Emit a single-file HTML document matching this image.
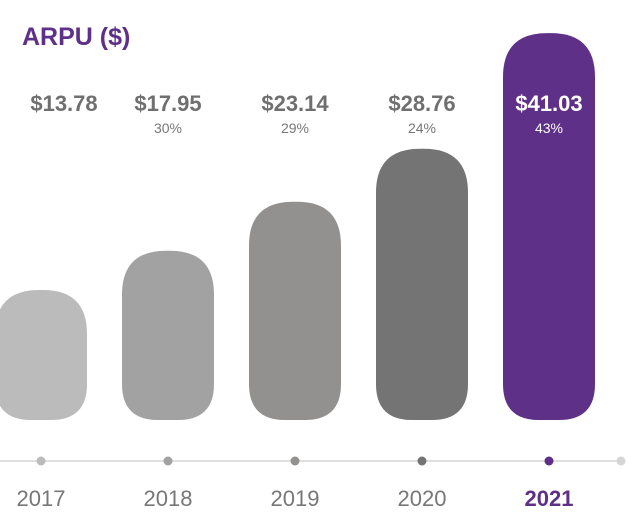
<!DOCTYPE html>
<html><head><meta charset="utf-8"><style>
body{margin:0;background:#fff;}
svg{display:block;font-family:"Liberation Sans",sans-serif;}
</style></head><body>
<svg id="chart" width="642" height="518" viewBox="0 0 642 518">
<text x="22" y="45" font-size="25" font-weight="bold" fill="#5f3087">ARPU ($)</text>
<line x1="0" y1="461" x2="621" y2="461" stroke="#e0e0e0" stroke-width="2"/>
<circle cx="621" cy="461" r="4.5" fill="#d6d6d6"/>
<g id="marks"></g>
</svg>
<script>
const years=["2017","2018","2019","2020","2021"];
const values=[13.78,17.95,23.14,28.76,41.03];
const valueLabels=["$13.78","$17.95","$23.14","$28.76","$41.03"];
const growthLabels=["","30%","29%","24%","43%"];
const colors=["#bbbbbb","#a3a2a2","#929190","#747474","#5f3087"];
const labelShift=[23,0,0,0,0];
const ns="http://www.w3.org/2000/svg";
const g=document.getElementById('marks');
const x=i=>41+i*127;
const y=v=>420-v*9.43;
const bw=92;
function rr(x0,y0,w,h,rt,rb){
  rt=Math.min(rt,h/2);rb=Math.min(rb,h/2);
  return `M${x0},${y0+rt}Q${x0},${y0} ${x0+rt},${y0}L${x0+w-rt},${y0}Q${x0+w},${y0} ${x0+w},${y0+rt}L${x0+w},${y0+h-rb}Q${x0+w},${y0+h} ${x0+w-rb},${y0+h}L${x0+rb},${y0+h}Q${x0},${y0+h} ${x0},${y0+h-rb}Z`;
}
years.forEach((yr,i)=>{
  const cx=x(i),top=y(values[i]);
  const last=i===years.length-1;
  const p=document.createElementNS(ns,'path');
  p.setAttribute('d',rr(cx-bw/2,top,bw,420-top,44,36));
  p.setAttribute('fill',colors[i]);
  
  
  g.appendChild(p);
  const t=document.createElementNS(ns,'text');
  t.setAttribute('x',cx+labelShift[i]);t.setAttribute('y',111);
  t.setAttribute('text-anchor','middle');t.setAttribute('font-size','22');t.setAttribute('font-weight','bold');
  t.setAttribute('fill',last?'#fff':'#6f6f6f');
  t.textContent=valueLabels[i];
  
  
  g.appendChild(t);
  if(growthLabels[i]){
    const s=document.createElementNS(ns,'text');
    s.setAttribute('x',cx);s.setAttribute('y',133);
    s.setAttribute('text-anchor','middle');s.setAttribute('font-size','14');
    s.setAttribute('fill',last?'#fff':'#777');
    s.textContent=growthLabels[i];
    
    
    g.appendChild(s);
  }
  const c=document.createElementNS(ns,'circle');
  c.setAttribute('cx',cx);c.setAttribute('cy',461);c.setAttribute('r',4.5);
  c.setAttribute('fill',last?'#5f3087':colors[i]);
  
  
  g.appendChild(c);
  const l=document.createElementNS(ns,'text');
  l.setAttribute('x',cx);l.setAttribute('y',506);
  l.setAttribute('text-anchor','middle');l.setAttribute('font-size','22');
  if(last)l.setAttribute('font-weight','bold');
  l.setAttribute('fill',last?'#5f3087':'#777');
  l.textContent=yr;
  
  
  g.appendChild(l);
});
</script>
</body></html>
